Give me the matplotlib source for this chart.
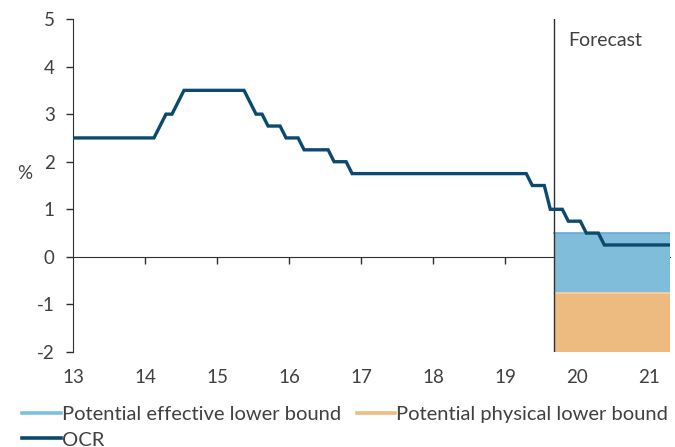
import numpy as np
import pandas as pd
import matplotlib
matplotlib.use("Agg")
from matplotlib import pyplot as plt

# OCR, end of month, Dec 2012 - Apr 2021 (forecast from Sep 2019)
ocr_2012 = [2.5]
ocr_2013 = [2.5] * 12
ocr_2014 = [2.5, 2.5, 2.75, 3.0, 3.0, 3.25, 3.5, 3.5, 3.5, 3.5, 3.5, 3.5]
ocr_2015 = [3.5, 3.5, 3.5, 3.5, 3.5, 3.25, 3.0, 3.0, 2.75, 2.75, 2.75, 2.5]
ocr_2016 = [2.5, 2.5, 2.25, 2.25, 2.25, 2.25, 2.25, 2.0, 2.0, 2.0, 1.75, 1.75]
ocr_2017 = [1.75] * 12
ocr_2018 = [1.75] * 12
ocr_2019 = [1.75, 1.75, 1.75, 1.75, 1.5, 1.5, 1.5, 1.0, 1.0, 1.0, 0.75, 0.75]
ocr_2020 = [0.75, 0.5, 0.5, 0.5, 0.25, 0.25, 0.25, 0.25, 0.25, 0.25, 0.25, 0.25]
ocr_2021 = [0.25, 0.25, 0.25, 0.25]

forecast_start = 19.67
forecast_end = 21.29
effective_lb = 0.5
physical_lb = -0.75

x_ticks = [13, 14, 15, 16, 17, 18, 19, 20, 21]
y_ticks = [-2, -1, 0, 1, 2, 3, 4, 5]

ocr = ocr_2012 + ocr_2013 + ocr_2014 + ocr_2015 + ocr_2016 + ocr_2017 + ocr_2018 + ocr_2019 + ocr_2020 + ocr_2021
months = pd.period_range("2012-12", periods=len(ocr), freq="M")
x = (months.year - 2000) + (months.month - 0.5) / 12

plt.rcParams["font.family"] = ["Lato", "DejaVu Sans"]
plt.rcParams["axes.unicode_minus"] = False
txt = "#404040"

fig = plt.figure(figsize=(6.75, 4.47), dpi=100)
ax = fig.add_axes([0.108, 0.2125, 0.885, 0.745])

# lower bound bands
band_x = [forecast_start, forecast_end]
ax.fill_between(band_x, physical_lb, effective_lb, color="#80bddb", lw=0, zorder=1)
ax.fill_between(band_x, -2, physical_lb, color="#edbb7f", lw=0, zorder=1)
ax.plot(band_x, [effective_lb] * 2, color="#63acd6", lw=1.2, zorder=2)
ax.plot(band_x, [physical_lb] * 2, color="#f6d3a8", lw=1.2, zorder=2)

ax.plot(x, ocr, color="#0b4a6e", lw=2.4, zorder=4, solid_joinstyle="miter")
ax.axvline(forecast_start, color="#303030", lw=1, zorder=3)
ax.text(forecast_start + 0.21, 4.54, "Forecast", fontsize=14, color=txt, va="center")

ax.set_xlim(13, forecast_end)
ax.set_ylim(-2, 5)
ax.set_yticks(y_ticks)
ax.set_xticks(x_ticks)
ax.set_xticklabels([str(t) for t in x_ticks])
for s in ["top", "right", "bottom"]:
    ax.spines[s].set_visible(False)
ax.spines["left"].set_color("#303030")
ax.tick_params(axis="y", direction="out", length=5, width=1, pad=8, labelsize=13.5, labelcolor=txt, color="#303030")
ax.tick_params(axis="x", length=0, pad=12, labelsize=13.5, labelcolor=txt)

# zero line with ticks hanging below it
zero = ax.secondary_xaxis(2 / 7)
zero.set_xticks(x_ticks[1:])
zero.tick_params(direction="out", length=5, width=1, color="#303030", labelbottom=False, labeltop=False)
zero.spines["bottom"].set_color("#303030")
zero.spines["top"].set_visible(False)

ax.set_ylabel("%", rotation=0, fontsize=13.5, color=txt)
ax.yaxis.set_label_coords(-0.08, 0.51)

h_eff, = ax.plot([], [], color="#80bfe0", lw=2.6, label="Potential effective lower bound")
h_phys, = ax.plot([], [], color="#f0bb7f", lw=2.6, label="Potential physical lower bound")
h_ocr, = ax.plot([], [], color="#0b4a6e", lw=2.6, label="OCR")
fig.legend(handles=[h_eff, h_ocr, h_phys], loc="upper left", bbox_to_anchor=(0.033, 0.092),
           ncol=2, frameon=False, fontsize=14.5, handlelength=1.9, handletextpad=0.05,
           columnspacing=0.8, labelspacing=0.42, borderaxespad=0, borderpad=0, labelcolor=txt)

fig.savefig("out.png", dpi=100)
